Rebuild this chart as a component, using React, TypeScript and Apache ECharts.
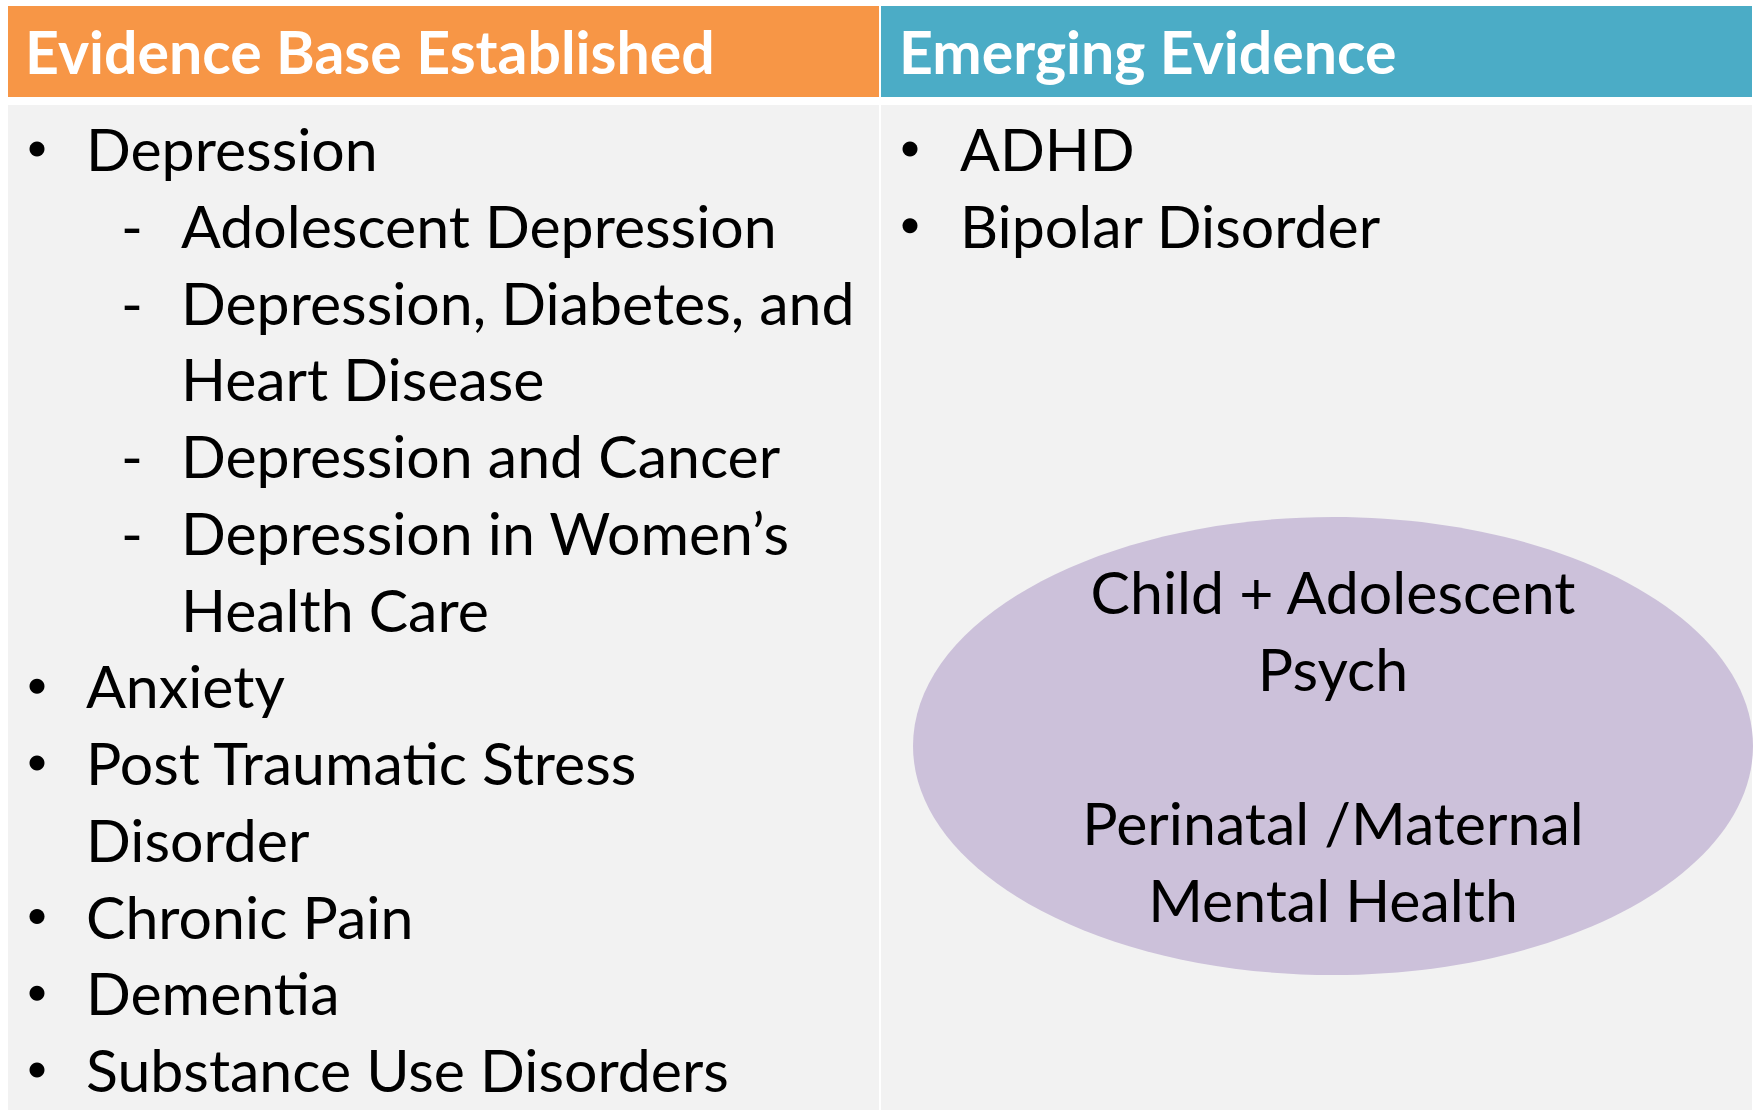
import React, { useEffect, useRef } from "react";
import * as echarts from "echarts";

// ---- content ----
const headerTitles = ["Evidence Base Established", "Emerging Evidence"];
const headerColors = ["#F79646", "#4BACC6"];

const leftLines = [
  "Depression",
  "Adolescent Depression",
  "Depression, Diabetes, and",
  "Heart Disease",
  "Depression and Cancer",
  "Depression in Women\u2019s",
  "Health Care",
  "Anxiety",
  "Post Traumatic Stress",
  "Disorder",
  "Chronic Pain",
  "Dementia",
  "Substance Use Disorders",
];
const leftLevels = [0, 1, 1, 1, 1, 1, 1, 0, 0, 0, 0, 0, 0];
const leftMarkers = ["bullet", "dash", "dash", "", "dash", "dash", "", "bullet", "bullet", "", "bullet", "bullet", "bullet"];

const rightLines = ["ADHD", "Bipolar Disorder"];
const rightMarkers = ["bullet", "bullet"];

const ovalLines = ["Child + Adolescent", "Psych", "", "Perinatal /Maternal", "Mental Health"];

const FONT = "Lato, 'Open Sans', sans-serif";

export default function App() {
  const ref = useRef<HTMLDivElement>(null);
  useEffect(() => {
    document.body.style.margin = "0";
    const chart = echarts.init(ref.current!, null, { renderer: "svg" });

    const colL = 8, colM = 879, colM2 = 881, colR = 1752;
    const headTop = 6, headBot = 97, bodyTop = 105, bodyBot = 1110;
    const fs = 59;
    const hfs = 59;
    const firstBase = 171.5;
    const step = 76.75;
    const mid = (base: number, size: number) => base - 0.387 * size;

    const els: any[] = [];
    els.push({ type: "rect", shape: { x: colL, y: headTop, width: colM - colL, height: headBot - headTop }, style: { fill: headerColors[0] } });
    els.push({ type: "rect", shape: { x: colM2, y: headTop, width: colR - colM2, height: headBot - headTop }, style: { fill: headerColors[1] } });
    els.push({ type: "rect", shape: { x: colL, y: bodyTop, width: colM - colL, height: bodyBot - bodyTop }, style: { fill: "#F2F2F2" } });
    els.push({ type: "rect", shape: { x: colM2, y: bodyTop, width: colR - colM2, height: bodyBot - bodyTop }, style: { fill: "#F2F2F2" } });

    const headerX = [25, 899];
    headerTitles.forEach((t, i) => {
      els.push({
        type: "text",
        x: headerX[i],
        y: mid(74, hfs),
        style: { text: t, fill: "#FFFFFF", font: `bold ${hfs}px ${FONT}`, align: "left", verticalAlign: "middle" },
      });
    });

    const bulletX = [37, 910];
    const textX0 = [86, 960];
    const dashX = 132;
    const textX1 = 181;

    leftLines.forEach((t, i) => {
      const base = firstBase + i * step;
      const x = leftLevels[i] === 0 ? textX0[0] : textX1;
      if (leftMarkers[i] === "bullet") {
        els.push({ type: "circle", shape: { cx: bulletX[0], cy: base - 22.5, r: 7.5 }, style: { fill: "#000" } });
      } else if (leftMarkers[i] === "dash") {
        els.push({
          type: "text",
          x: dashX,
          y: mid(base, fs),
          style: { text: "-", fill: "#000", font: `${fs}px ${FONT}`, align: "center", verticalAlign: "middle" },
        });
      }
      els.push({
        type: "text",
        x,
        y: mid(base, fs),
        style: { text: t, fill: "#000", font: `${fs}px ${FONT}`, align: "left", verticalAlign: "middle" },
      });
    });

    rightLines.forEach((t, i) => {
      const base = firstBase + i * step;
      if (rightMarkers[i] === "bullet") {
        els.push({ type: "circle", shape: { cx: bulletX[1], cy: base - 22.5, r: 7.5 }, style: { fill: "#000" } });
      }
      els.push({
        type: "text",
        x: textX0[1],
        y: mid(base, fs),
        style: { text: t, fill: "#000", font: `${fs}px ${FONT}`, align: "left", verticalAlign: "middle" },
      });
    });

    els.push({ type: "ellipse", shape: { cx: 1333, cy: 746, rx: 420, ry: 229 }, style: { fill: "#CCC1DA" } });
    const ovalBase0 = 614.5;
    ovalLines.forEach((t, i) => {
      if (!t) return;
      els.push({
        type: "text",
        x: 1333,
        y: mid(ovalBase0 + i * 77, fs),
        style: { text: t, fill: "#000", font: `${fs}px ${FONT}`, align: "center", verticalAlign: "middle" },
      });
    });

    chart.setOption({ animation: false, backgroundColor: "#FFFFFF", graphic: { elements: els } });
    return () => chart.dispose();
  }, []);
  return <div ref={ref} style={{ position: "absolute", left: 0, top: 0, width: 1757, height: 1110 }} />;
}
